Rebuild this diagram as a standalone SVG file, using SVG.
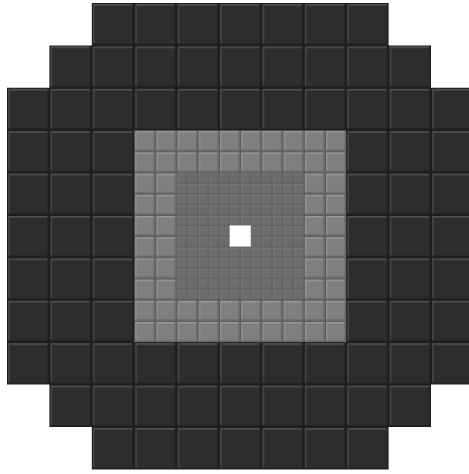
<svg xmlns="http://www.w3.org/2000/svg" width="469" height="474" viewBox="0 0 469 474">
  <defs>
    <pattern id="big" patternUnits="userSpaceOnUse" x="7" y="3" width="42.4" height="42.4">
      <rect width="42.4" height="42.4" fill="#1c1c1c"/>
      <rect x="1" y="1" width="40.6" height="40.6" fill="#2d2d2d"/>
      <rect x="1" y="1" width="40.6" height="1.6" fill="#505050"/>
      <rect x="1" y="1" width="1.6" height="40.6" fill="#464646"/>
      <rect x="1" y="40.4" width="40.6" height="1.2" fill="#222"/>
      <rect x="40.4" y="1" width="1.2" height="40.6" fill="#222"/>
    </pattern>
    <pattern id="small" patternUnits="userSpaceOnUse" x="134.2" y="130.2" width="21.2" height="21.2">
      <rect width="21.2" height="21.2" fill="#5c5c5c"/>
      <rect x="1" y="1" width="19.6" height="19.6" fill="#7f7f7f"/>
      <rect x="1" y="1" width="19.6" height="1.4" fill="#9a9a9a"/>
      <rect x="1" y="1" width="1.4" height="19.6" fill="#929292"/>
      <rect x="1" y="19.4" width="19.6" height="1.2" fill="#6a6a6a"/>
      <rect x="19.4" y="1" width="1.2" height="19.6" fill="#6a6a6a"/>
    </pattern>
    <pattern id="tiny" patternUnits="userSpaceOnUse" x="176.6" y="172.6" width="10.6" height="10.6">
      <rect width="10.6" height="10.6" fill="#5e5e5e"/>
      <rect x="0.8" y="0.8" width="9.2" height="9.2" fill="#6c6c6c"/>
      <rect x="0.8" y="0.8" width="9.2" height="1" fill="#7a7a7a"/>
      <rect x="0.8" y="0.8" width="1" height="9.2" fill="#767676"/>
    </pattern>
  </defs>
  <rect width="469" height="474" fill="#ffffff"/>
  <g id="outer-grid">
    <path fill="url(#big)" d="M91.8,3 H388.6 V45.4 H431 V87.8 H473.4 V384.6 H431 V427 H388.6 V469.4 H91.8 V427 H49.4 V384.6 H7 V87.8 H49.4 V45.4 H91.8 Z"/>
  </g>
  <g id="middle-grid">
    <rect x="134.2" y="130.2" width="212" height="212" fill="url(#small)"/>
  </g>
  <g id="inner-grid">
    <rect x="176.6" y="172.6" width="127.2" height="127.2" fill="url(#tiny)"/>
  </g>
  <g id="center">
    <rect x="229.6" y="225.4" width="21.2" height="21.2" fill="#ffffff"/>
  </g>
</svg>
